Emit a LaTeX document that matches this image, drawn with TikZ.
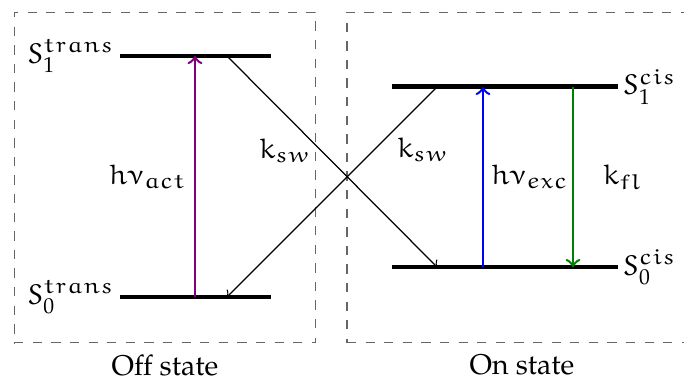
\documentclass[tikz,border=0pt]{standalone}
\usepackage[T1]{fontenc}
\usepackage{mathpazo}
\DeclareSymbolFont{letters}{U}{eur}{m}{n}
\usetikzlibrary{positioning}

\begin{document}
\begin{tikzpicture}[
    font=\fontsize{9.2}{11}\selectfont,
    level/.style={line width=1.6pt},
    statebox/.style={draw=black!60, dashed, minimum height=3.75cm},
    photon/.style={->, thick}
  ]
    % taille de la figure
    \useasboundingbox (0,0) rectangle (7.757,4.411);

    % les deux cadres
    \node[statebox, minimum width=3.42cm] (offbox) at (1.871,2.398) {};
    \node[statebox, minimum width=3.97cm] (onbox) at (5.92,2.398) {};
    \node[below=0pt of offbox] (offlbl) {Off state};
    \node[below=0pt of onbox] (onlbl) {On state};

    % niveaux trans
    \coordinate (t1a) at (1.361,3.776); \coordinate (t1b) at (3.073,3.776);
    \coordinate (t0a) at (1.361,1.043); \coordinate (t0b) at (3.073,1.043);
    \draw[level] (t1a) -- (t1b);
    \draw[level] (t0a) -- (t0b);
    \node[left=1.5pt of t1a, inner sep=0pt] (t1lbl) {$S_1^{trans}$};
    \node[left=1.5pt of t0a, inner sep=0pt] (t0lbl) {$S_0^{trans}$};

    % niveaux cis
    \coordinate (c1a) at (4.445,3.425); \coordinate (c1b) at (7.008,3.425);
    \coordinate (c0a) at (4.445,1.383); \coordinate (c0b) at (7.008,1.383);
    \draw[level] (c1a) -- (c1b);
    \draw[level] (c0a) -- (c0b);
    \node[right=1.5pt of c1b, inner sep=0pt] (c1lbl) {$S_1^{cis}$};
    \node[right=1.5pt of c0b, inner sep=0pt] (c0lbl) {$S_0^{cis}$};

    % activation
    \coordinate (act0) at (2.211,1.043); \coordinate (act1) at (2.211,3.776);
    \draw[photon, draw=violet] (act0) -- (act1) node[midway, left=-1pt] (lact) {$h\nu_{act}$};

    % excitation et fluorescence
    \coordinate (exc0) at (5.477,1.383); \coordinate (exc1) at (5.477,3.425);
    \draw[photon, draw=blue] (exc0) -- (exc1) node[midway, right=-1pt] (lexc) {$h\nu_{exc}$};
    \coordinate (fl1) at (6.498,3.425); \coordinate (fl0) at (6.498,1.383);
    \draw[photon, draw=green!50!black] (fl1) -- (fl0) node[midway, right=6pt] (lfl) {$k_{fl}$};

    % commutation
    \coordinate (sw1) at (2.574,3.776); \coordinate (sw2) at (4.956,1.383);
    \coordinate (sw3) at (4.956,3.425); \coordinate (sw4) at (2.574,1.043);
    \draw[->] (sw1) -- (sw2) node[pos=0.45, left=0pt] (lsw1) {$k_{sw}$};
    \draw[->] (sw3) -- (sw4) node[pos=0.3, right=4pt] (lsw2) {$k_{sw}$};
\end{tikzpicture}
\end{document}
